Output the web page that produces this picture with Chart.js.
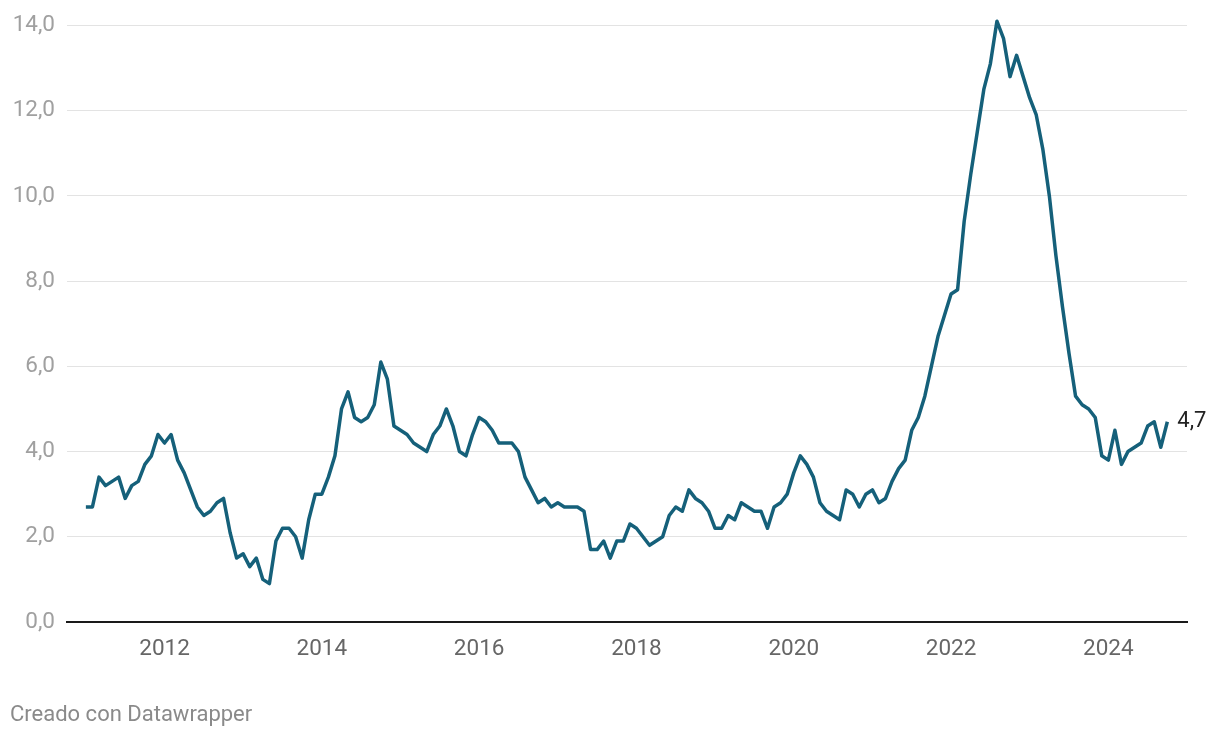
<!DOCTYPE html>
<html lang="es">
<head>
  <meta charset="UTF-8">
  <title>Serie mensual 2011-2024</title>
  <script src="https://cdn.jsdelivr.net/npm/chart.js"></script>
  <style>
    body { margin: 0; background: #fff; font-family: Roboto, sans-serif; }
    #wrap { position: relative; width: 1220px; height: 738px; }
    #footer { position: absolute; left: 10px; top: 701px; font-size: 22px; color: #8a8a8a; }
  </style>
</head>
<body>
<div id="wrap">
  <canvas id="myChart" width="1220" height="738"></canvas>
  <div id="footer">Creado con Datawrapper</div>
</div>
<script>
  // datos mensuales, enero 2011 - octubre 2024
  const startYear = 2011;
  const values = [
    2.7, 2.7, 3.4, 3.2, 3.3, 3.4, 2.9, 3.2, 3.3, 3.7, 3.9, 4.4,   // 2011
    4.2, 4.4, 3.8, 3.5, 3.1, 2.7, 2.5, 2.6, 2.8, 2.9, 2.1, 1.5,   // 2012
    1.6, 1.3, 1.5, 1.0, 0.9, 1.9, 2.2, 2.2, 2.0, 1.5, 2.4, 3.0,   // 2013
    3.0, 3.4, 3.9, 5.0, 5.4, 4.8, 4.7, 4.8, 5.1, 6.1, 5.7, 4.6,   // 2014
    4.5, 4.4, 4.2, 4.1, 4.0, 4.4, 4.6, 5.0, 4.6, 4.0, 3.9, 4.4,   // 2015
    4.8, 4.7, 4.5, 4.2, 4.2, 4.2, 4.0, 3.4, 3.1, 2.8, 2.9, 2.7,   // 2016
    2.8, 2.7, 2.7, 2.7, 2.6, 1.7, 1.7, 1.9, 1.5, 1.9, 1.9, 2.3,   // 2017
    2.2, 2.0, 1.8, 1.9, 2.0, 2.5, 2.7, 2.6, 3.1, 2.9, 2.8, 2.6,   // 2018
    2.2, 2.2, 2.5, 2.4, 2.8, 2.7, 2.6, 2.6, 2.2, 2.7, 2.8, 3.0,   // 2019
    3.5, 3.9, 3.7, 3.4, 2.8, 2.6, 2.5, 2.4, 3.1, 3.0, 2.7, 3.0,   // 2020
    3.1, 2.8, 2.9, 3.3, 3.6, 3.8, 4.5, 4.8, 5.3, 6.0, 6.7, 7.2,   // 2021
    7.7, 7.8, 9.4, 10.5, 11.5, 12.5, 13.1, 14.1, 13.7, 12.8, 13.3, 12.8, // 2022
    12.3, 11.9, 11.1, 10.0, 8.6, 7.4, 6.3, 5.3, 5.1, 5.0, 4.8, 3.9, // 2023
    3.8, 4.5, 3.7, 4.0, 4.1, 4.2, 4.6, 4.7, 4.1, 4.7              // 2024
  ];
  const xTicks = [2012, 2014, 2016, 2018, 2020, 2022, 2024];
  const yTicks = [0, 2, 4, 6, 8, 10, 12, 14];

  const points = values.map((v, i) => ({ x: startYear + i / 12, y: v }));

  const fmt = v => v.toFixed(1).replace('.', ',');

  // etiqueta del último valor
  const lastLabel = {
    id: 'lastLabel',
    afterDatasetsDraw(chart) {
      const xs = chart.scales.x, ys = chart.scales.y;
      const p = points[points.length - 1];
      const c = chart.ctx;
      c.save();
      c.font = '22px Roboto';
      c.fillStyle = '#222';
      c.textAlign = 'left';
      c.textBaseline = 'middle';
      c.fillText(fmt(p.y), xs.getPixelForValue(p.x) + 10, ys.getPixelForValue(p.y));
      c.restore();
    }
  };

  const ctx = document.getElementById('myChart').getContext('2d');
  new Chart(ctx, {
    type: 'line',
    data: {
      datasets: [{
        data: points,
        borderColor: '#15607a',
        borderWidth: 3.5,
        pointRadius: 0,
        tension: 0,
        borderJoinStyle: 'round',
        clip: false
      }]
    },
    options: {
      responsive: false,
      animation: false,
      layout: { padding: { top: 25, right: 33, bottom: 76, left: 0 } },
      plugins: { legend: { display: false }, tooltip: { enabled: false } },
      scales: {
        x: {
          type: 'linear',
          min: 2010.76,
          max: 2025.0,
          afterBuildTicks: s => { s.ticks = xTicks.map(v => ({ value: v })); },
          afterFit: s => { s.height = 40; },
          grid: { display: false, drawTicks: false },
          border: { display: true, color: '#1a1a1a', width: 2 },
          ticks: {
            padding: 14,
            color: '#666',
            font: { family: 'Roboto', size: 22.5 },
            callback: v => String(v)
          }
        },
        y: {
          min: 0,
          max: 14,
          afterBuildTicks: s => { s.ticks = yTicks.map(v => ({ value: v })); },
          afterFit: s => { s.width = 67; },
          grid: {
            drawTicks: false,
            color: c => c.tick && c.tick.value === 0 ? 'rgba(0,0,0,0)' : '#e3e3e3',
            lineWidth: 1
          },
          border: { display: false },
          ticks: {
            padding: 12,
            color: '#a0a0a0',
            font: { family: 'Roboto', size: 22.5 },
            callback: v => fmt(v)
          }
        }
      }
    },
    plugins: [lastLabel]
  });
</script>
</body>
</html>
